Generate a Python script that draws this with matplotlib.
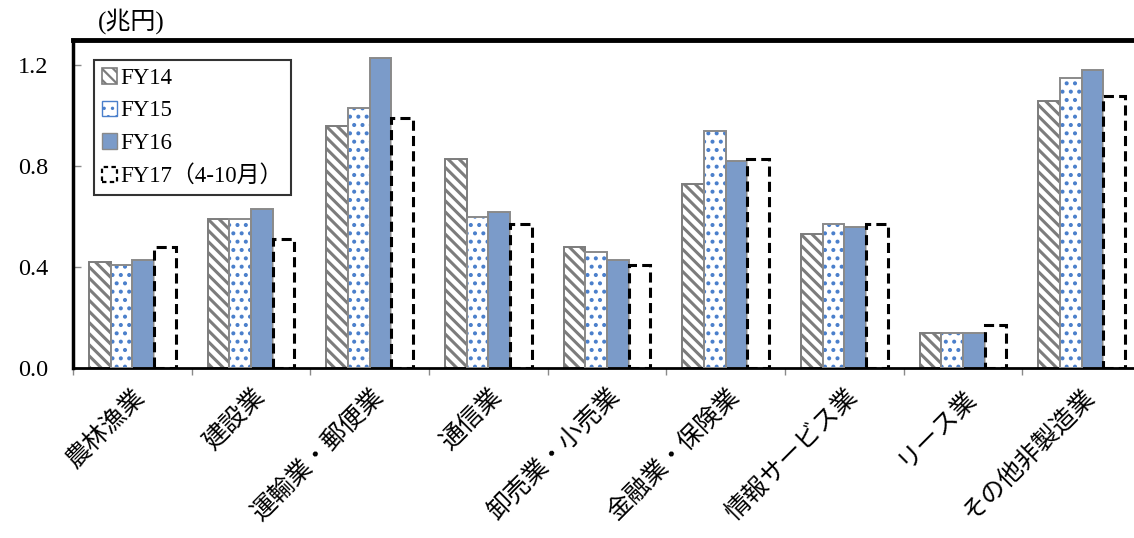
import matplotlib
matplotlib.use("Agg")
import matplotlib.pyplot as plt
import numpy as np
from matplotlib.patches import Patch

plt.rcParams['font.family'] = ['Liberation Serif', 'Noto Sans CJK JP']

categories = ['農林漁業', '建設業', '運輸業・郵便業', '通信業', '卸売業・小売業',
              '金融業・保険業', '情報サービス業', 'リース業', 'その他非製造業']
fy14 = [0.42, 0.59, 0.96, 0.83, 0.48, 0.73, 0.53, 0.14, 1.06]
fy15 = [0.41, 0.59, 1.03, 0.60, 0.46, 0.94, 0.57, 0.14, 1.15]
fy16 = [0.43, 0.63, 1.23, 0.62, 0.43, 0.82, 0.56, 0.14, 1.18]
fy17 = [0.48, 0.51, 0.99, 0.57, 0.41, 0.83, 0.57, 0.17, 1.08]
series_labels = ['FY14', 'FY15', 'FY16', 'FY17（4-10月）']
yticks = [0.0, 0.4, 0.8, 1.2]

W, H = 1134, 538
fig = plt.figure(figsize=(W / 100, H / 100), dpi=100)
left, right, bottom, top = 73, 1141, 368, 40
ax = fig.add_axes([left / W, (H - bottom) / H, (right - left) / W, (bottom - top) / H])

x = np.arange(len(categories))
bw = 0.183
edge_gray = '#8a8a8a'
stripe_gray = '#7c7c7c'
dot_blue = '#4a7fcb'
fill_blue = '#7b9bc9'

def set_hatch_lw(artists, lw):
    for a in artists:
        if hasattr(a, 'set_hatch_linewidth'):
            a.set_hatch_linewidth(lw)

# FY14: grey diagonal stripes
plt.rcParams['hatch.linewidth'] = 2.2
b14 = ax.bar(x - 1.5 * bw, fy14, bw, facecolor='white', edgecolor=stripe_gray,
             hatch='\\\\\\', linewidth=1.4, zorder=2)
set_hatch_lw(b14, 2.2)

# FY15: blue dots on white, grey outline drawn on top
plt.rcParams['hatch.linewidth'] = 1.7
b15 = ax.bar(x - 0.5 * bw, fy15, bw, facecolor='white', edgecolor=dot_blue,
             hatch='..', linewidth=0, zorder=2)
set_hatch_lw(b15, 1.7)
ax.bar(x - 0.5 * bw, fy15, bw, facecolor='none', edgecolor=edge_gray,
       linewidth=1.4, zorder=3)

# FY16: solid blue
ax.bar(x + 0.5 * bw, fy16, bw, facecolor=fill_blue, edgecolor=edge_gray,
       linewidth=1.4, zorder=2)

# FY17: dashed outline
ax.bar(x + 1.5 * bw, fy17, bw, facecolor='white', edgecolor='black',
       linewidth=2.2, linestyle=(0, (3.3, 1.7)), zorder=2)

ax.set_xlim(-0.5, len(categories) - 0.5)
ax.set_ylim(0, 1.3)

ax.set_yticks(yticks)
ax.set_yticklabels([f'{v:.1f}' for v in yticks], fontsize=17.5)
ax.tick_params(axis='y', direction='in', length=6, width=1, color='#8a8a8a', pad=18)

ax.set_xticks(np.arange(-0.5, len(categories), 1.0))
ax.set_xticklabels([])
ax.tick_params(axis='x', which='major', direction='out', length=5, width=1, color='#8a8a8a')
ax.set_xticks(x, minor=True)
ax.set_xticklabels(categories, minor=True, rotation=45, ha='right', va='top',
                   rotation_mode='anchor', fontsize=18, family='Noto Sans CJK JP')
ax.tick_params(axis='x', which='minor', length=0, pad=11)

for s, lw in (('left', 2.5), ('top', 3.5), ('bottom', 2.0)):
    ax.spines[s].set_color('black')
    ax.spines[s].set_linewidth(lw)
ax.spines['right'].set_visible(False)

handles = [
    Patch(facecolor='white', edgecolor=stripe_gray, hatch='\\\\\\', linewidth=1.2),
    Patch(facecolor='white', edgecolor=dot_blue, hatch='..', linewidth=1.0),
    Patch(facecolor=fill_blue, edgecolor=edge_gray, linewidth=1.0),
    Patch(facecolor='white', edgecolor='black', linewidth=1.6, linestyle=(0, (2, 1.5))),
]
leg = ax.legend(handles, series_labels, loc='upper left',
                bbox_to_anchor=((94 - left) / (right - left), (bottom - 60) / (bottom - top)),
                fontsize=16.5, frameon=True, fancybox=False, borderpad=0.35,
                handlelength=0.65, handleheight=0.65, handletextpad=0.15,
                labelspacing=0.5, borderaxespad=0)
leg.get_frame().set_edgecolor('black')
leg.get_frame().set_linewidth(1.5)
set_hatch_lw(leg.legend_handles[:1], 1.6)
set_hatch_lw(leg.legend_handles[1:2], 1.2)

fig.text(131 / W, 1 - 21 / H, '(兆円)', ha='center', va='center', fontsize=18,
         family=['Liberation Serif', 'Noto Sans CJK JP'])

fig.savefig('out.png', dpi=100)
